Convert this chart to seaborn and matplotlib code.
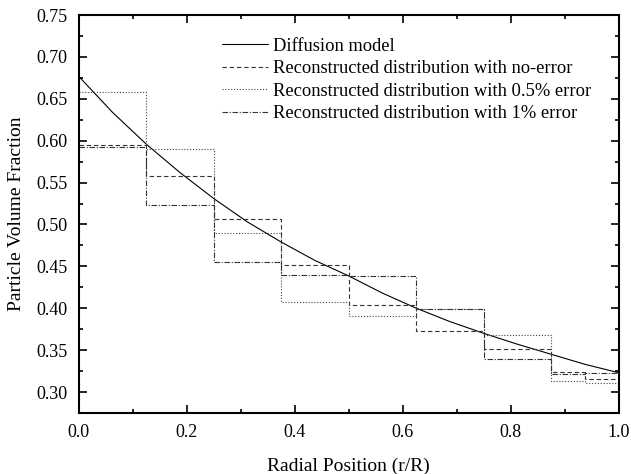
import numpy as np
import pandas as pd
import matplotlib
matplotlib.use("Agg")
import matplotlib.pyplot as plt
import seaborn as sns
from matplotlib.ticker import MultipleLocator

# diffusion model curve
curve_x = [0.0, 0.0625, 0.125, 0.1875, 0.25, 0.3125, 0.375, 0.4375, 0.5,
           0.5625, 0.625, 0.6875, 0.75, 0.8125, 0.875, 0.9375, 1.0]
curve_y = [0.677, 0.634, 0.596, 0.562, 0.531, 0.503, 0.479, 0.457, 0.4385,
           0.418, 0.400, 0.384, 0.370, 0.357, 0.345, 0.333, 0.323]

# reconstructed step distributions (value per bin)
bin_edges = [0.0, 0.125, 0.25, 0.375, 0.5, 0.625, 0.75, 0.875, 0.9375, 1.0]
no_error = [0.595, 0.558, 0.507, 0.452, 0.404, 0.373, 0.351, 0.324, 0.316]
err_05 = [0.658, 0.590, 0.490, 0.408, 0.391, 0.399, 0.368, 0.313, 0.311]
err_1 = [0.593, 0.523, 0.455, 0.440, 0.439, 0.399, 0.340, 0.322, 0.323]

labels = ["Diffusion model",
          "Reconstructed distribution with no-error",
          "Reconstructed distribution with 0.5% error",
          "Reconstructed distribution with 1% error"]

sns.set_style("ticks")
plt.rcParams["font.family"] = ["Liberation Serif", "DejaVu Serif"]
plt.rcParams["text.color"] = "black"
plt.rcParams["axes.labelcolor"] = "black"
plt.rcParams["xtick.color"] = "black"
plt.rcParams["ytick.color"] = "black"
plt.rcParams["axes.edgecolor"] = "black"

fig = plt.figure(figsize=(6.31, 4.74), dpi=100)
ax = fig.add_axes([78.6 / 631, 1 - 413 / 474, (619 - 78.6) / 631, (413 - 15) / 474])

sns.lineplot(x=curve_x, y=curve_y, ax=ax, color="black", lw=0.8, label=labels[0])


def steps(vals):
    return pd.DataFrame({"x": bin_edges, "y": list(vals) + [vals[-1]]})


styles = [(no_error, (0, (4, 2.5)), "#333333"),
          (err_05, (0, (1, 1.6)), "#444444"),
          (err_1, (0, (5, 1.5, 1, 1.5)), "#333333")]
for (vals, ls, col), lab in zip(styles, labels[1:]):
    d = steps(vals)
    sns.lineplot(data=d, x="x", y="y", ax=ax, drawstyle="steps-post",
                 color=col, lw=0.8, linestyle=ls, label=lab)

ax.set_xlim(0, 1.0)
ax.set_ylim(0.275, 0.75)
ax.xaxis.set_major_locator(MultipleLocator(0.2))
ax.xaxis.set_minor_locator(MultipleLocator(0.1))
ax.yaxis.set_major_locator(MultipleLocator(0.05))
ax.yaxis.set_minor_locator(MultipleLocator(0.025))
ax.xaxis.set_major_formatter(matplotlib.ticker.FormatStrFormatter("%.1f"))
ax.yaxis.set_major_formatter(matplotlib.ticker.FormatStrFormatter("%.2f"))
ax.tick_params(which="both", top=True, right=True, direction="in",
               labelsize=13, width=1.2)
ax.tick_params(which="major", length=6, pad=8)
ax.tick_params(which="minor", length=3)
for s in ax.spines.values():
    s.set_linewidth(1.5)
    s.set_visible(True)

ax.set_xlabel("Radial Position (r/R)", fontsize=14, labelpad=12)
ax.set_ylabel("Particle Volume Fraction", fontsize=14, labelpad=8)

ax.legend(loc="upper left", bbox_to_anchor=(0.248, 0.966), frameon=False,
          fontsize=13.3, handlelength=2.5, handletextpad=0.25,
          labelspacing=0.3, borderpad=0)

fig.savefig("out.png", dpi=100)
